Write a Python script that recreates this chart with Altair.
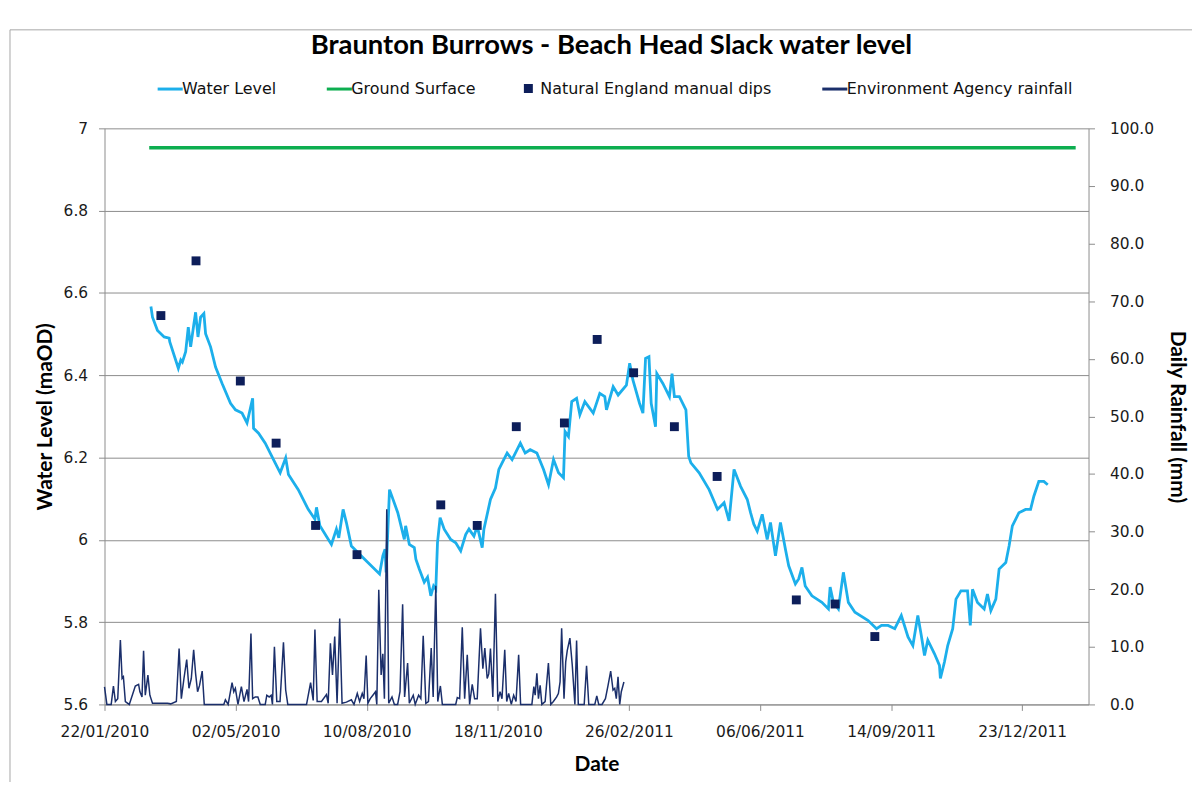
import json
import pandas as pd
import altair as alt

# ---------------- data (x = days after 22/01/2010) ----------------
SERIES = ["Water Level", "Ground Surface", "Natural England manual dips",
          "Environment Agency rainfall"]
COLORS = ["#1CAFEB", "#0DAE50", "#0D1E5A", "#1B2F6B"]
LINE_SYMBOL = "M-4.2,0L4.2,0"
SHAPES = [LINE_SYMBOL, LINE_SYMBOL, "square", LINE_SYMBOL]

tick_days = [0, 100, 200, 300, 400, 500, 600, 700]
tick_labels = ["22/01/2010", "02/05/2010", "10/08/2010", "18/11/2010",
               "26/02/2011", "06/06/2011", "14/09/2011", "23/12/2011"]
left_ticks = [5.6, 5.8, 6.0, 6.2, 6.4, 6.6, 6.8, 7.0]
right_ticks = [0, 10, 20, 30, 40, 50, 60, 70, 80, 90, 100]

wl_day = [35.4, 36.6, 40.4, 45.5, 49.3, 49.8, 56.3, 58.2, 59.4, 61.9, 63.9, 65.7, 68.2,
          69.5, 71.3, 73.3, 75.8, 77.1, 80.9, 84.7, 89.7, 96.1, 99.9, 104.9, 108.7,
          113.0, 113.7, 117.5, 122.6, 128.9, 134.0, 138.2, 140.3, 147.8, 155.4, 160.5,
          161.7, 164.3, 173.1, 176.9, 178.7, 182.0, 184.5, 188.3, 198.4, 209.8, 212.3,
          214.0, 214.8, 217.4, 223.7, 228.7, 229.7, 232.5, 236.3, 237.5, 240.1, 243.9,
          246.4, 248.9, 251.0, 252.7, 254.0, 256.0, 259.1, 264.1, 267.9, 271.7, 275.5,
          278.0, 281.8, 284.3, 288.1, 289.4, 294.4, 298.2, 300.8, 303.3, 307.1, 310.9,
          317.2, 320.9, 324.7, 329.8, 334.9, 338.7, 342.5, 346.3, 350.1, 351.3, 353.9,
          356.4, 360.1, 362.6, 366.4, 372.8, 377.8, 381.6, 382.9, 388.0, 391.8, 398.1,
          400.6, 403.1, 408.1, 410.7, 412.7, 415.3, 417.0, 420.3, 421.3, 425.9, 430.9,
          432.9, 434.7, 438.5, 443.5, 445.6, 447.3, 453.6, 461.2, 467.6, 472.6, 476.4,
          480.2, 485.2, 490.3, 492.8, 495.3, 497.9, 501.7, 505.5, 508.0, 511.8, 515.6,
          519.4, 521.9, 527.0, 529.5, 532.0, 534.5, 539.6, 547.2, 552.2, 553.5, 556.0,
          559.8, 563.6, 567.4, 572.4, 582.5, 588.9, 592.7, 597.7, 602.8, 607.8, 612.9,
          616.6, 620.4, 623.0, 625.5, 628.0, 633.1, 636.9, 637.6, 640.7, 643.2, 647.0,
          649.5, 653.3, 658.3, 660.4, 662.1, 665.9, 671.0, 673.5, 676.1, 679.9, 682.4,
          687.5, 690.0, 692.5, 697.5, 702.6, 706.4, 708.9, 712.7, 716.5, 719.5]
wl_val = [6.567, 6.541, 6.509, 6.493, 6.490, 6.481, 6.417, 6.437, 6.432, 6.457, 6.517,
          6.469, 6.525, 6.553, 6.493, 6.541, 6.550, 6.501, 6.469, 6.420, 6.380, 6.332,
          6.316, 6.308, 6.284, 6.344, 6.271, 6.259, 6.235, 6.195, 6.163, 6.199, 6.159,
          6.122, 6.074, 6.050, 6.079, 6.034, 5.989, 6.026, 6.005, 6.074, 6.042, 5.985,
          5.953, 5.917, 5.961, 5.977, 5.921, 6.122, 6.066, 6.001, 6.034, 5.989, 5.981,
          5.953, 5.929, 5.897, 5.909, 5.864, 5.888, 5.880, 5.993, 6.054, 6.026, 6.001,
          5.993, 5.973, 6.013, 6.026, 6.009, 6.034, 5.981, 6.026, 6.098, 6.126, 6.171,
          6.187, 6.211, 6.195, 6.235, 6.211, 6.219, 6.211, 6.171, 6.134, 6.195, 6.163,
          6.151, 6.263, 6.251, 6.336, 6.344, 6.304, 6.336, 6.308, 6.356, 6.348, 6.316,
          6.372, 6.352, 6.376, 6.429, 6.388, 6.332, 6.308, 6.441, 6.445, 6.332, 6.275,
          6.404, 6.380, 6.348, 6.404, 6.348, 6.348, 6.316, 6.203, 6.187, 6.163, 6.122,
          6.074, 6.090, 6.046, 6.171, 6.130, 6.098, 6.066, 6.038, 6.021, 6.062, 6.001,
          6.042, 5.961, 6.042, 5.977, 5.937, 5.893, 5.905, 5.933, 5.888, 5.864, 5.848,
          5.832, 5.885, 5.848, 5.832, 5.921, 5.848, 5.824, 5.804, 5.784, 5.792, 5.792,
          5.784, 5.816, 5.764, 5.743, 5.816, 5.768, 5.719, 5.756, 5.723, 5.695, 5.663,
          5.703, 5.743, 5.784, 5.856, 5.876, 5.876, 5.792, 5.880, 5.848, 5.832, 5.868,
          5.828, 5.856, 5.929, 5.945, 5.985, 6.034, 6.066, 6.074, 6.074, 6.106, 6.142,
          6.142, 6.134]

ground_day = [34.1, 740.8]
ground_val = [6.953, 6.953]

dip_day = [43.0, 69.8, 103.6, 130.9, 161.0, 192.6, 256.5, 284.3, 314.1, 350.8, 375.8,
           403.6, 434.7, 467.3, 527.7, 557.3, 587.6]
dip_val = [6.545, 6.678, 6.386, 6.235, 6.035, 5.964, 6.085, 6.035, 6.275, 6.284, 6.487,
           6.406, 6.275, 6.154, 5.854, 5.844, 5.765]

rain_day = [0, 1.8, 5.1, 6.8, 8.3, 10.1, 12.1, 13.4, 14.4, 15.9, 18.9, 23.5, 26.0, 27.0,
            28.6, 29.8, 31.1, 33.1, 34.6, 36.6, 48.0, 50.5, 54.8, 56.9, 58.6, 60.6, 62.7,
            64.4, 66.2, 68.0, 69.5, 71.0, 72.5, 74.5, 76.1, 91.0, 92.2, 94.3, 97.3, 98.6,
            99.8, 101.8, 104.4, 106.4, 108.7, 109.9, 111.7, 113.0, 115.0, 117.0, 118.8,
            122.6, 123.8, 125.6, 127.1, 128.1, 129.6, 131.4, 133.9, 136.5, 138.2, 139.8,
            154.1, 157.2, 159.2, 160.5, 162.2, 165.5, 169.3, 170.6, 172.3, 173.9, 175.6,
            177.4, 179.4, 181.2, 184.5, 188.3, 190.3, 192.8, 194.6, 196.6, 197.9, 199.6,
            200.9, 202.7, 204.7, 206.7, 207.7, 209.2, 211.0, 212.3, 213.5, 215.3, 216.8,
            219.3, 221.1, 223.6, 225.4, 227.4, 228.9, 231.2, 232.5, 235.5, 237.0, 239.6,
            241.3, 243.1, 245.1, 247.1, 249.2, 250.7, 252.7, 254.2, 256.2, 257.7, 267.9,
            269.1, 270.9, 272.9, 274.7, 276.7, 278.5, 280.5, 282.3, 284.3, 286.8, 288.6,
            290.1, 291.9, 293.1, 294.4, 296.2, 298.2, 300.0, 301.7, 303.2, 305.3, 306.8,
            308.3, 310.3, 312.1, 313.9, 315.9, 317.4, 326.0, 327.5, 328.5, 329.8, 331.0,
            332.3, 333.6, 336.1, 338.6, 340.4, 342.4, 344.9, 346.2, 347.5, 348.7, 350.5,
            351.8, 353.0, 355.0, 356.8, 358.8, 360.1, 361.4, 365.9, 367.7, 369.4, 374.0,
            375.5, 377.0, 379.5, 382.1, 384.1, 386.1, 387.9, 389.2, 390.4, 391.7, 393.0,
            394.2, 396.2]
rain_mm = [3.05, 0, 0, 3.2, 0.5, 1.0, 11.2, 4.5, 4.8, 0.5, 0, 3.2, 3.5, 2.2, 1.3, 9.3, 1.6,
           5.1, 1.6, 0.2, 0.2, 0.1, 0.5, 9.7, 1.0, 4.5, 7.8, 2.8, 4.5, 9.5, 5.3, 2.2, 3.3,
           5.8, 0, 0, 0.8, 0, 3.8, 2.2, 2.8, 0, 3.1, 0.5, 2.6, 0.5, 12.3, 1.0, 1.3, 1.3, 0,
           0, 1.6, 1.3, 1.6, 0, 10.0, 0.5, 0.5, 10.8, 2.5, 0, 0, 3.8, 0.7, 13.0, 0.5, 0.5,
           1.7, 0.2, 10.6, 5.1, 11.8, 0.2, 14.9, 0.2, 0.4, 0.8, 0, 1.9, 0.5, 1.9, 1.0, 8.5,
           0.2, 1.0, 1.6, 2.2, 0, 19.9, 5.1, 8.8, 1.0, 33.9, 0.2, 1.3, 0, 0, 2.2, 17.4, 1.3,
           7.2, 0.2, 1.6, 0, 1.6, 1.0, 11.9, 0.2, 0.5, 9.8, 1.3, 20.6, 0.5, 3.2, 0, 0, 1.2,
           1.0, 13.4, 1.0, 8.6, 0, 3.5, 1.0, 1.0, 13.2, 6.2, 9.8, 4.5, 5.3, 9.7, 1.3, 19.2,
           0.5, 2.2, 1.0, 9.5, 0.5, 1.9, 0, 1.6, 0.5, 8.6, 0, 0, 3.1, 1.6, 5.4, 1.0, 3.3, 0,
           0.5, 7.2, 0, 0.5, 1.3, 1.9, 3.9, 13.2, 1.0, 7.4, 9.4, 11.5, 6.8, 0, 11.1, 0, 0,
           6.7, 0, 0, 1.5, 0, 0, 1.0, 3.3, 5.8, 2.5, 2.8, 1.0, 4.8, 0, 2.2, 3.9]

# ---------------- tables ----------------
wl_df = pd.DataFrame({"day": wl_day, "value": wl_val, "series": SERIES[0]})
ground_df = pd.DataFrame({"day": ground_day, "value": ground_val, "series": SERIES[1]})
dip_df = pd.DataFrame({"day": dip_day, "value": dip_val, "series": SERIES[2]})
rain_df = pd.DataFrame({"day": rain_day, "mm": rain_mm, "series": SERIES[3]})

TICK_FONT = "DejaVu Sans"
TITLE_FONT = "Lato"
GRID = "#8c8c8c"

label_expr = json.dumps(tick_labels) + "[round(datum.value / 100)]"

x_enc = alt.X(
    "day:Q",
    scale=alt.Scale(domain=[0, 750.6], nice=False, zero=False),
    axis=alt.Axis(values=tick_days, labelExpr=label_expr, title="Date", grid=False,
                  labelFlush=False, tickSize=6, labelPadding=14, titlePadding=14),
)

legend = alt.Legend(
    title=None, orient="none", direction="horizontal", legendX=58, legendY=-48,
    columnPadding=44, symbolSize=36, symbolStrokeWidth=3, symbolOpacity=1,
    symbolFillColor="#0D1E5A", labelOffset=4, labelFont=TICK_FONT, labelFontSize=16,
    labelColor="#111111", labelLimit=500, padding=0,
)
color_enc = alt.Color("series:N", scale=alt.Scale(domain=SERIES, range=COLORS), legend=legend)
shape_enc = alt.Shape("series:N", scale=alt.Scale(domain=SERIES, range=SHAPES), legend=legend)

left_scale = alt.Scale(domain=[5.6, 7.0], nice=False, zero=False)

water = alt.Chart(wl_df).mark_line(strokeWidth=2.8).encode(
    x=x_enc,
    y=alt.Y("value:Q", scale=left_scale,
            axis=alt.Axis(values=left_ticks, format=".1~f", title="Water Level (maOD)",
                          grid=True, tickSize=6, labelPadding=11, titlePadding=8)),
    color=color_enc,
)

rain = alt.Chart(rain_df).mark_line(strokeWidth=1.5).encode(
    x=x_enc,
    y=alt.Y("mm:Q", scale=alt.Scale(domain=[0, 100], nice=False, zero=True),
            axis=alt.Axis(orient="right", values=right_ticks, format=".1f",
                          title="Daily Rainfall (mm)", grid=False, tickSize=6,
                          labelPadding=15, titlePadding=13)),
    color=color_enc,
)

dips = alt.Chart(dip_df).mark_point(filled=True, size=80, opacity=1).encode(
    x=x_enc,
    y=alt.Y("value:Q", scale=left_scale, axis=None),
    color=color_enc,
    shape=shape_enc,
)

ground = alt.Chart(ground_df).mark_line(strokeWidth=3.5).encode(
    x=x_enc,
    y=alt.Y("value:Q", scale=left_scale, axis=None),
    color=color_enc,
)

frame = alt.Chart(pd.DataFrame({"k": [0]})).mark_rect(
    fillOpacity=0, stroke="#a6a6a6", strokeWidth=1
).encode(x=alt.value(-95), x2=alt.value(1300), y=alt.value(-99), y2=alt.value(720))

chart = (
    alt.layer(frame, water, rain, dips, ground)
    .resolve_scale(y="independent")
    .properties(
        width=989, height=579,
        autosize=alt.AutoSizeParams(type="none"),
        padding={"left": 97, "top": 119, "right": 104, "bottom": 76},
        title=alt.TitleParams(
            text="Braunton Burrows - Beach Head Slack water level",
            font=TITLE_FONT, fontSize=27.5, fontWeight="bold", color="#000000",
            anchor="middle", frame="group", offset=22, dx=15, dy=52,
        ),
    )
    .configure_view(strokeWidth=0)
    .configure_axis(
        labelFont=TICK_FONT, labelFontSize=15.5, labelColor="#1a1a1a",
        titleFont=TITLE_FONT, titleFontSize=21, titleFontWeight="bold", titleColor="#000000",
        domainColor=GRID, tickColor=GRID, gridColor=GRID, gridWidth=1,
    )
)

chart.save("out.html", embed_options={"renderer": "svg", "actions": False})
